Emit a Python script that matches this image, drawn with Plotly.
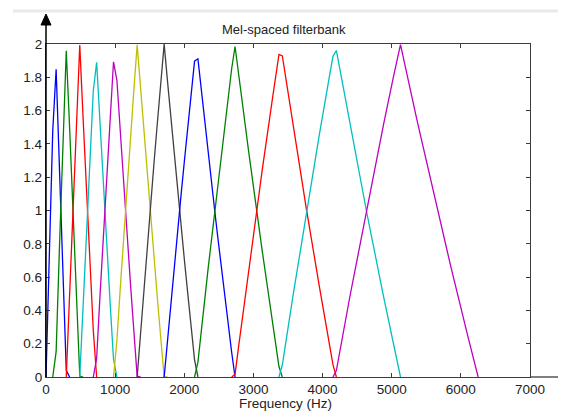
import plotly.graph_objects as go

# ---- data (12 mel-spaced triangular filters) ----
BIN_HZ = 6250 / 128  # spacing of the FFT bins on the frequency axis

filter_bins = [
    [0, 1, 2, 3, 4, 5, 6, 7],
    [2, 3, 4, 5, 6, 7, 8, 9, 10, 11],
    [6, 7, 8, 9, 10, 11, 12, 13, 14, 15],
    [10, 11, 12, 13, 14, 15, 16, 17, 18, 19, 20, 21],
    [14, 15, 16, 17, 18, 19, 20, 21, 22, 23, 24, 25, 26, 27, 28],
    [20, 21, 22, 23, 24, 25, 26, 27, 28, 29, 30, 31, 32, 33, 34, 35, 36],
    [27, 28, 29, 30, 31, 32, 33, 34, 35, 36, 37, 38, 39, 40, 41, 42, 43, 44, 45],
    [35, 36, 37, 38, 39, 40, 41, 42, 43, 44, 45, 46, 47, 48, 49, 50, 51, 52, 53, 54, 55, 56],
    [44, 45, 48, 51, 53, 55, 56, 57, 60, 64, 67, 69, 70],
    [55, 56, 57, 60, 64, 67, 69, 70, 73, 77, 81, 84, 85, 86],
    [69, 70, 73, 77, 81, 84, 85, 86, 90, 95, 100, 103, 104, 105],
    [85, 86, 90, 95, 100, 103, 104, 105, 110, 115, 120, 125, 127, 128],
]

filter_values = [
    [0, 0.764, 1.479, 1.848, 1.213, 0.611, 0.040, 0],
    [0, 0.152, 0.788, 1.389, 1.960, 1.496, 0.977, 0.481, 0.006, 0],
    [0, 0.504, 1.023, 1.519, 1.994, 1.550, 1.111, 0.689, 0.282, 0],
    [0, 0.450, 0.889, 1.311, 1.718, 1.890, 1.510, 1.143, 0.787, 0.442, 0.107, 0],
    [0, 0.111, 0.490, 0.858, 1.213, 1.558, 1.893, 1.782, 1.466, 1.158, 0.859, 0.567, 0.283, 0.005, 0],
    [0, 0.218, 0.534, 0.842, 1.141, 1.433, 1.717, 1.995, 1.735, 1.470, 1.212, 0.959, 0.712, 0.470, 0.233, 0.001, 0],
    [0, 0.266, 0.530, 0.788, 1.041, 1.288, 1.530, 1.767, 1.999, 1.774, 1.551, 1.333, 1.118, 0.908, 0.701, 0.499, 0.299, 0.103, 0],
    [0, 0.226, 0.449, 0.667, 0.882, 1.092, 1.299, 1.502, 1.701, 1.897, 1.911, 1.722, 1.535, 1.352, 1.172, 0.994, 0.820, 0.648, 0.478, 0.311, 0.147, 0],
    [0, 0.089, 0.648, 1.180, 1.522, 1.853, 1.985, 1.825, 1.358, 0.764, 0.339, 0.063, 0],
    [0, 0.016, 0.175, 0.642, 1.236, 1.661, 1.937, 1.928, 1.533, 1.025, 0.540, 0.189, 0.074, 0],
    [0, 0.072, 0.468, 0.975, 1.460, 1.811, 1.926, 1.961, 1.518, 0.988, 0.481, 0.188, 0.092, 0],
    [0, 0.039, 0.482, 1.012, 1.519, 1.812, 1.908, 1.996, 1.532, 1.085, 0.655, 0.241, 0.080, 0],
]

line_colors = ["#0000ff", "#008000", "#ff0000", "#00bfbf", "#bf00bf", "#bfbf00", "#404040"]

x_ticks = [0, 1000, 2000, 3000, 4000, 5000, 6000, 7000]
y_ticks = [0, 0.2, 0.4, 0.6, 0.8, 1.0, 1.2, 1.4, 1.6, 1.8, 2.0]
y_tick_text = ["0", "0.2", "0.4", "0.6", "0.8", "1", "1.2", "1.4", "1.6", "1.8", "2"]

title_text = "Mel-spaced filterbank"
x_label = "Frequency (Hz)"

# ---- figure (page body has an 8px margin, so the figure is offset by 8px) ----
PAGE_W, PAGE_H = 566, 411
OFF = 8
W, H = PAGE_W - OFF, PAGE_H - OFF
# plot box in page pixels: x 46..530, y 44..377
ML, MR, MT, MB = 46 - OFF, PAGE_W - 530, 44 - OFF, PAGE_H - 377
PW, PH = W - ML - MR, H - MT - MB


def px_x(px):  # page pixel -> paper x
    return (px - OFF - ML) / PW


def px_y(py):  # page pixel -> paper y
    return (H - MB - (py - OFF)) / PH


fig = go.Figure()
for i, (bins, vals) in enumerate(zip(filter_bins, filter_values)):
    fig.add_trace(go.Scatter(
        x=[b * BIN_HZ for b in bins],
        y=vals,
        mode="lines",
        line=dict(color=line_colors[i % len(line_colors)], width=1.3),
        showlegend=False,
        hoverinfo="skip",
    ))

font_family = "Liberation Sans, Arial, Helvetica, sans-serif"
axis_color = "#3c3c3c"
text_color = "#222222"

fig.update_layout(
    width=W, height=H,
    margin=dict(l=ML, r=MR, t=MT, b=MB, pad=0, autoexpand=False),
    paper_bgcolor="white", plot_bgcolor="white",
    font=dict(family=font_family, size=13, color=text_color),
    xaxis=dict(
        range=[0, 7000], tickvals=x_ticks, ticktext=[str(v) for v in x_ticks],
        automargin=False,
        showgrid=False, zeroline=False, showline=True, linecolor=axis_color, linewidth=1.3,
        mirror="allticks", ticks="inside", ticklen=4, tickcolor=axis_color, tickwidth=1.2,
        tickfont=dict(size=13.5, color=text_color),
        fixedrange=True,
    ),
    yaxis=dict(
        range=[0, 2], tickvals=y_ticks, ticktext=y_tick_text,
        automargin=False,
        showgrid=False, zeroline=False, showline=True, linecolor=axis_color, linewidth=1.3,
        mirror="allticks", ticks="inside", ticklen=4, tickcolor=axis_color, tickwidth=1.2,
        tickfont=dict(size=13.5, color=text_color),
        fixedrange=True,
    ),
    annotations=[
        dict(text=title_text, xref="paper", yref="paper", x=px_x(284), y=px_y(29),
             xanchor="center", yanchor="middle", showarrow=False,
             font=dict(size=13, color=text_color)),
        dict(text=x_label, xref="paper", yref="paper", x=px_x(285), y=px_y(403),
             xanchor="center", yanchor="middle", showarrow=False,
             font=dict(size=13.5, color=text_color)),
    ],
    shapes=[
        # light separator band at the very top
        dict(type="line", xref="paper", yref="paper", x0=px_x(13), x1=px_x(566),
             y0=px_y(11), y1=px_y(11), line=dict(color="#e9e9e9", width=3)),
        # y axis drawn in black and extended upward to an arrow
        dict(type="line", xref="paper", yref="paper", x0=0, x1=0,
             y0=0, y1=px_y(22), line=dict(color="black", width=1.5)),
        dict(type="path", xref="paper", yref="paper",
             path=f"M {px_x(41)},{px_y(25)} L {px_x(46)},{px_y(14)} L {px_x(51)},{px_y(25)} Z",
             fillcolor="black", line=dict(color="black", width=1)),
        # x axis extended past the box
        dict(type="line", xref="paper", yref="paper", x0=1, x1=px_x(560),
             y0=0, y1=0, line=dict(color=axis_color, width=1.3)),
        dict(type="line", xref="paper", yref="paper", x0=px_x(560), x1=px_x(560),
             y0=0, y1=px_y(373), line=dict(color=axis_color, width=1)),
    ],
)

fig.write_html("out.html", config={"displayModeBar": False})
